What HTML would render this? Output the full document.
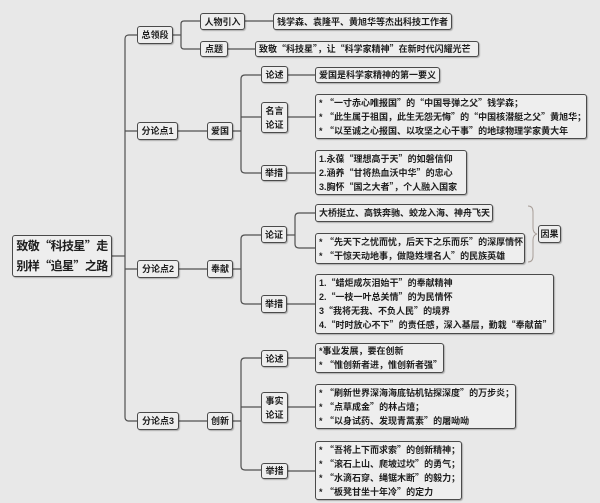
<!DOCTYPE html>
<html><head><meta charset="utf-8">
<style>
html,body{margin:0;padding:0;}
body{width:600px;height:503px;background:#e8e8e8;position:relative;overflow:hidden;
font-family:"Liberation Sans","Noto Sans CJK SC",sans-serif;font-weight:bold;color:#1e1e1e;}
.b{position:absolute;box-sizing:border-box;border:1px solid #4a4a4a;border-radius:3px;background:#eeeeee;
box-shadow:1px 1px 1px rgba(0,0,0,0.25);font-size:9px;line-height:14px;white-space:nowrap;}
.c{display:flex;align-items:center;justify-content:center;text-align:center;}
.l{display:flex;flex-direction:column;justify-content:center;padding-left:3px;}
.q{font-family:"Noto Sans CJK SC",sans-serif;}
svg{position:absolute;left:0;top:0;}
</style></head><body>
<svg width="600" height="503" viewBox="0 0 600 503">
<g fill="none" stroke="#505050" stroke-width="1.2">
<path d="M112,256 H125"/>
<path d="M137,35 H129 Q125,35 125,39 V417 Q125,421 129,421 H137"/>
<path d="M125,131 H137 M125,269 H137"/>
<path d="M173,35 H181"/>
<path d="M200,21 H184 Q181,21 181,24 V46 Q181,49 184,49 H200"/>
<path d="M245,21 H273 M228,49 H255"/>
<path d="M178,131 H207 M233,131 H241"/>
<path d="M261,75 H245 Q241,75 241,79 V169 Q241,173 245,173 H261"/>
<path d="M241,117 H261"/>
<path d="M288,75 H315 M288,117 H315 M287,173 H315"/>
<path d="M179,269 H207 M233,269 H241"/>
<path d="M261,235 H245 Q241,235 241,239 V300 Q241,304 245,304 H261"/>
<path d="M287,235 H295"/>
<path d="M315,213 H299 Q295,213 295,217 V244 Q295,248 299,248 H315"/>
<path d="M287,304 H315"/>
<path d="M179,421 H207 M233,421 H241"/>
<path d="M261,358 H245 Q241,358 241,362 V466 Q241,470 245,470 H261"/>
<path d="M241,407 H261"/>
<path d="M288,358 H315 M288,407 H315 M288,471 H315"/>
</g>
<path d="M528,206 Q533,206 533,212 V228 Q533,233 537,234 Q533,235 533,240 V256 Q533,262 528,262" fill="none" stroke="#a89e98" stroke-width="1"/>
</svg>

<div class="b c" style="left:12px;top:235px;width:100px;height:42px;font-size:12px;line-height:19px;letter-spacing:-0.6px;"><div>致敬<span class="q">“</span>科技星<span class="q">”</span>走<br>别样<span class="q">“</span>追星<span class="q">”</span>之路</div></div>

<div class="b c" style="left:137px;top:26px;width:36px;height:18px;">总领段</div>
<div class="b c" style="left:137px;top:122px;width:41px;height:18px;">分论点1</div>
<div class="b c" style="left:137px;top:260px;width:42px;height:18px;">分论点2</div>
<div class="b c" style="left:137px;top:412px;width:42px;height:18px;">分论点3</div>

<div class="b c" style="left:200px;top:13px;width:45px;height:17px;">人物引入</div>
<div class="b c" style="left:200px;top:41px;width:28px;height:16px;">点题</div>
<div class="b c" style="left:207px;top:122px;width:26px;height:18px;">爱国</div>
<div class="b c" style="left:207px;top:260px;width:26px;height:18px;">奉献</div>
<div class="b c" style="left:207px;top:412px;width:26px;height:18px;">创新</div>

<div class="b c" style="left:261px;top:66px;width:27px;height:17px;">论述</div>
<div class="b c" style="left:261px;top:102px;width:27px;height:31px;"><div>名言<br>论证</div></div>
<div class="b c" style="left:261px;top:165px;width:26px;height:16px;">举措</div>
<div class="b c" style="left:261px;top:226px;width:26px;height:17px;">论证</div>
<div class="b c" style="left:261px;top:295px;width:26px;height:18px;">举措</div>
<div class="b c" style="left:261px;top:350px;width:27px;height:17px;">论述</div>
<div class="b c" style="left:261px;top:392px;width:27px;height:31px;"><div>事实<br>论证</div></div>
<div class="b c" style="left:261px;top:463px;width:27px;height:16px;">举措</div>

<div class="b l" style="left:273px;top:13px;width:179px;height:17px;"><div>钱学森、袁隆平、黄旭华等杰出科技工作者</div></div>
<div class="b l" style="left:255px;top:41px;width:224px;height:16px;"><div>致敬<span class="q">“</span>科技星<span class="q">”</span>，让<span class="q">“</span>科学家精神<span class="q">”</span>在新时代闪耀光芒</div></div>
<div class="b l" style="left:315px;top:67px;width:125px;height:16px;"><div>爱国是科学家精神的第一要义</div></div>
<div class="b l" style="left:315px;top:94px;width:272px;height:45px;">
<div>* <span class="q">“</span>一寸赤心唯报国<span class="q">”</span>的<span class="q">“</span>中国导弹之父<span class="q">”</span>钱学森；</div>
<div>* <span class="q">“</span>此生属于祖国，此生无怨无悔<span class="q">”</span>的<span class="q">“</span>中国核潜艇之父<span class="q">”</span>黄旭华；</div>
<div>* <span class="q">“</span>以至诚之心报国、以攻坚之心干事<span class="q">”</span>的地球物理学家黄大年</div>
</div>
<div class="b l" style="left:315px;top:150px;width:152px;height:45px;">
<div>1.永葆<span class="q">“</span>理想高于天<span class="q">”</span>的如磐信仰</div>
<div>2.涵养<span class="q">“</span>甘将热血沃中华<span class="q">”</span>的忠心</div>
<div>3.胸怀<span class="q">“</span>国之大者<span class="q">”</span>，个人融入国家</div>
</div>
<div class="b l" style="left:315px;top:204px;width:178px;height:18px;"><div>大桥挺立、高铁奔驰、蛟龙入海、神舟飞天</div></div>
<div class="b l" style="left:315px;top:233px;width:210px;height:31px;">
<div>* <span class="q">“</span>先天下之忧而忧，后天下之乐而乐<span class="q">”</span>的深厚情怀</div>
<div>* <span class="q">“</span>干惊天动地事，做隐姓埋名人<span class="q">”</span>的民族英雄</div>
</div>
<div class="b c" style="left:538px;top:225px;width:23px;height:18px;">因果</div>
<div class="b l" style="left:315px;top:274px;width:239px;height:60px;">
<div>1.<span class="q">“</span>蜡炬成灰泪始干<span class="q">”</span>的奉献精神</div>
<div>2.<span class="q">“</span>一枝一叶总关情<span class="q">”</span>的为民情怀</div>
<div>3<span class="q">“</span>我将无我、不负人民<span class="q">”</span>的境界</div>
<div>4.<span class="q">“</span>时时放心不下<span class="q">”</span>的责任感，深入基层，勤栽<span class="q">“</span>奉献苗<span class="q">”</span></div>
</div>
<div class="b l" style="left:315px;top:343px;width:129px;height:30px;">
<div>*事业发展，要在创新</div>
<div>* <span class="q">“</span>惟创新者进，惟创新者强<span class="q">”</span></div>
</div>
<div class="b l" style="left:315px;top:384px;width:201px;height:45px;">
<div>* <span class="q">“</span>刷新世界深海海底钻机钻探深度<span class="q">”</span>的万步炎；</div>
<div>* <span class="q">“</span>点草成金<span class="q">”</span>的林占熺；</div>
<div>* <span class="q">“</span>以身试药、发现青蒿素<span class="q">”</span>的屠呦呦</div>
</div>
<div class="b l" style="left:315px;top:441px;width:147px;height:59px;">
<div>* <span class="q">“</span>吾将上下而求索<span class="q">”</span>的创新精神；</div>
<div>* <span class="q">“</span>滚石上山、爬坡过坎<span class="q">”</span>的勇气；</div>
<div>* <span class="q">“</span>水滴石穿、绳锯木断<span class="q">”</span>的毅力；</div>
<div>* <span class="q">“</span>板凳甘坐十年冷<span class="q">”</span>的定力</div>
</div>
</body></html>
